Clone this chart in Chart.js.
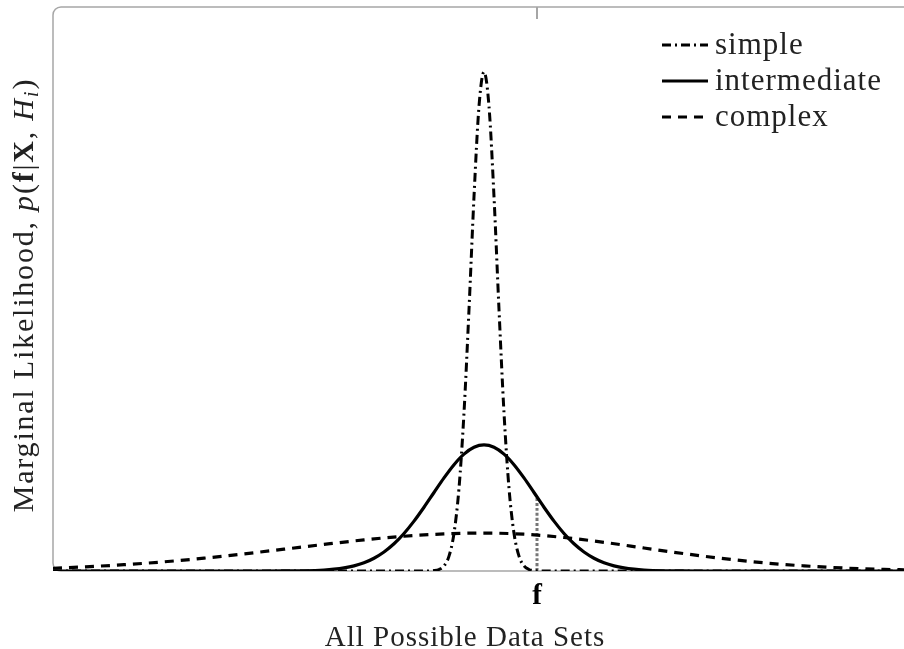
<!DOCTYPE html>
<html>
<head>
<meta charset="utf-8">
<script src="https://cdn.jsdelivr.net/npm/chart.js@4.4.1/dist/chart.umd.min.js"></script>
<style>
  html, body { margin: 0; padding: 0; background: #fff; }
  #wrap { width: 904px; height: 649px; }
</style>
</head>
<body>
<div id="wrap"><canvas id="plot"></canvas></div>
<script>
// evidence curves p(f|X,H) for three model classes, heights in arbitrary units
const seriesNames = ['simple', 'intermediate', 'complex'];

const simpleX = [-43.1, -6, -5, -4.5, -4, -3.5, -3, -2.5, -2, -1.5, -1, -0.5, 0,
                 0.5, 1, 1.5, 2, 2.5, 3, 3.5, 4, 4.5, 5, 6, 42];
const simpleY = [0, 0, 0.08, 0.30, 1.01, 2.97, 7.56, 16.6, 31.7, 52.4, 75.0, 93.1, 100,
                 93.1, 75.0, 52.4, 31.7, 16.6, 7.56, 2.97, 1.01, 0.30, 0.08, 0, 0];

const interX = [-43.1, -22, -20, -18, -16, -15, -14, -13, -12, -11, -10, -9, -8, -7, -6, -5, -4, -3, -2, -1, 0,
                1, 2, 3, 4, 5, 6, 7, 8, 9, 10, 11, 12, 13, 14, 15, 16, 18, 20, 22, 42];
const interY = [0, 0, 0.01, 0.05, 0.20, 0.36, 0.62, 1.03, 1.65, 2.56, 3.81, 5.45, 7.52, 9.99, 12.78, 15.73, 18.65, 21.30, 23.41, 24.78, 25.25,
                24.78, 23.41, 21.30, 18.65, 15.73, 12.78, 9.99, 7.52, 5.45, 3.81, 2.56, 1.65, 1.03, 0.62, 0.36, 0.20, 0.05, 0.01, 0, 0];

const complexX = [-43.1, -40, -36, -32, -28, -24, -20, -16, -12, -8, -4, 0,
                  4, 8, 12, 16, 20, 24, 28, 32, 36, 40, 42];
const complexY = [0.55, 0.83, 1.26, 1.84, 2.57, 3.42, 4.37, 5.33, 6.23, 6.96, 7.43, 7.6,
                  7.37, 6.71, 5.74, 4.61, 3.48, 2.47, 1.64, 1.03, 0.60, 0.33, 0.25];

// the observed data set f and the evidence of the intermediate model there
const fMark = 5.3;
const fLineX = [5.3, 5.3];
const fLineY = [0, 14.8];
const xTickLabels = ['f'];

const xTitle = 'All Possible Data Sets';
const yTitleParts = [
  ['Marginal Likelihood, ', 'normal'],
  ['p', 'italic'],
  ['(', 'normal'],
  ['f', 'bold'],
  ['|', 'normal'],
  ['X', 'bold'],
  [', ', 'normal'],
  ['H', 'italic'],
  ['i', 'sub'],
  [')', 'normal']
];

const SERIF = '"Liberation Serif", "Times New Roman", serif';

function pts(xs, ys) {
  return xs.map((x, i) => ({ x: x, y: ys[i] }));
}

const frame = {
  id: 'frame',
  beforeDatasetsDraw(chart) {
    const { ctx, chartArea: a } = chart;
    const r = 8;
    ctx.save();
    ctx.strokeStyle = '#a6a6a6';
    ctx.lineWidth = 1.5;
    ctx.beginPath();
    ctx.moveTo(a.right + 10, a.top);
    ctx.lineTo(a.left + r, a.top);
    ctx.arcTo(a.left, a.top, a.left, a.top + r, r);
    ctx.lineTo(a.left, a.bottom - r);
    ctx.arcTo(a.left, a.bottom, a.left + r, a.bottom, r);
    ctx.lineTo(a.right + 10, a.bottom);
    ctx.stroke();
    // tick mark for f on the top edge
    const fx = chart.scales.x.getPixelForValue(fMark);
    ctx.lineWidth = 2;
    ctx.beginPath();
    ctx.moveTo(fx, a.top);
    ctx.lineTo(fx, a.top + 12);
    ctx.stroke();
    ctx.restore();
  },
  afterDraw(chart) {
    const { ctx } = chart;
    ctx.save();
    ctx.fillStyle = '#222';
    ctx.letterSpacing = '1px';

    // x title
    ctx.font = '29px ' + SERIF;
    ctx.textAlign = 'center';
    ctx.textBaseline = 'alphabetic';
    ctx.fillText(xTitle, 465, 646);

    // y title, mixed styles
    ctx.letterSpacing = '1.8px';
    const fontFor = s => {
      if (s === 'italic') return 'italic 30px ' + SERIF;
      if (s === 'bold') return 'bold 30px ' + SERIF;
      if (s === 'sub') return 'italic 21px ' + SERIF;
      return '30px ' + SERIF;
    };
    let total = 0;
    yTitleParts.forEach(([t, s]) => { ctx.font = fontFor(s); total += ctx.measureText(t).width; });
    ctx.translate(33, 295);
    ctx.rotate(-Math.PI / 2);
    ctx.textAlign = 'left';
    let x = -total / 2;
    yTitleParts.forEach(([t, s]) => {
      ctx.font = fontFor(s);
      ctx.fillText(t, x, s === 'sub' ? 5 : 0);
      x += ctx.measureText(t).width;
    });
    ctx.restore();

    // legend
    ctx.save();
    const rows = [45, 81, 117];
    ctx.font = '31px ' + SERIF;
    ctx.letterSpacing = '1px';
    ctx.textAlign = 'left';
    ctx.textBaseline = 'alphabetic';
    seriesNames.forEach((name, i) => {
      const ds = chart.data.datasets[i];
      ctx.strokeStyle = '#000';
      ctx.lineWidth = ds.borderWidth;
      ctx.setLineDash(ds.borderDash || []);
      ctx.beginPath();
      ctx.moveTo(662, rows[i]);
      ctx.lineTo(708, rows[i]);
      ctx.stroke();
      ctx.fillStyle = '#222';
      ctx.fillText(name, 715, rows[i] + 9);
    });
    ctx.restore();
  }
};

new Chart(document.getElementById('plot'), {
  type: 'line',
  data: {
    datasets: [
      { label: seriesNames[0], data: pts(simpleX, simpleY), borderColor: '#000', borderWidth: 3,
        borderDash: [9, 4, 2, 4], order: 1 },
      { label: seriesNames[1], data: pts(interX, interY), borderColor: '#000', borderWidth: 3.2,
        borderDash: [], order: 2 },
      { label: seriesNames[2], data: pts(complexX, complexY), borderColor: '#000', borderWidth: 3.2,
        borderDash: [9, 7], order: 3 },
      { label: 'f', data: pts(fLineX, fLineY), borderColor: '#777', borderWidth: 3,
        borderDash: [3, 2], order: 4 }
    ]
  },
  options: {
    responsive: true,
    maintainAspectRatio: false,
    animation: false,
    layout: { padding: { left: 53, top: 7, right: 0, bottom: 0 } },
    elements: {
      point: { radius: 0 },
      line: { cubicInterpolationMode: 'monotone', fill: false, borderCapStyle: 'butt' }
    },
    plugins: { legend: { display: false }, tooltip: { enabled: false } },
    scales: {
      x: {
        type: 'linear', min: -43.1, max: 42,
        grid: { display: false, drawTicks: false },
        border: { display: false },
        afterBuildTicks: s => { s.ticks = [{ value: fMark }]; },
        afterFit: s => { s.height = 78; },
        ticks: {
          autoSkip: false, maxRotation: 0, padding: 8, color: '#000',
          font: { family: SERIF, size: 29, weight: 'bold' },
          callback: (v, i) => xTickLabels[i]
        }
      },
      y: { display: false, min: 0, max: 113 }
    }
  },
  plugins: [frame]
});
</script>
</body>
</html>
